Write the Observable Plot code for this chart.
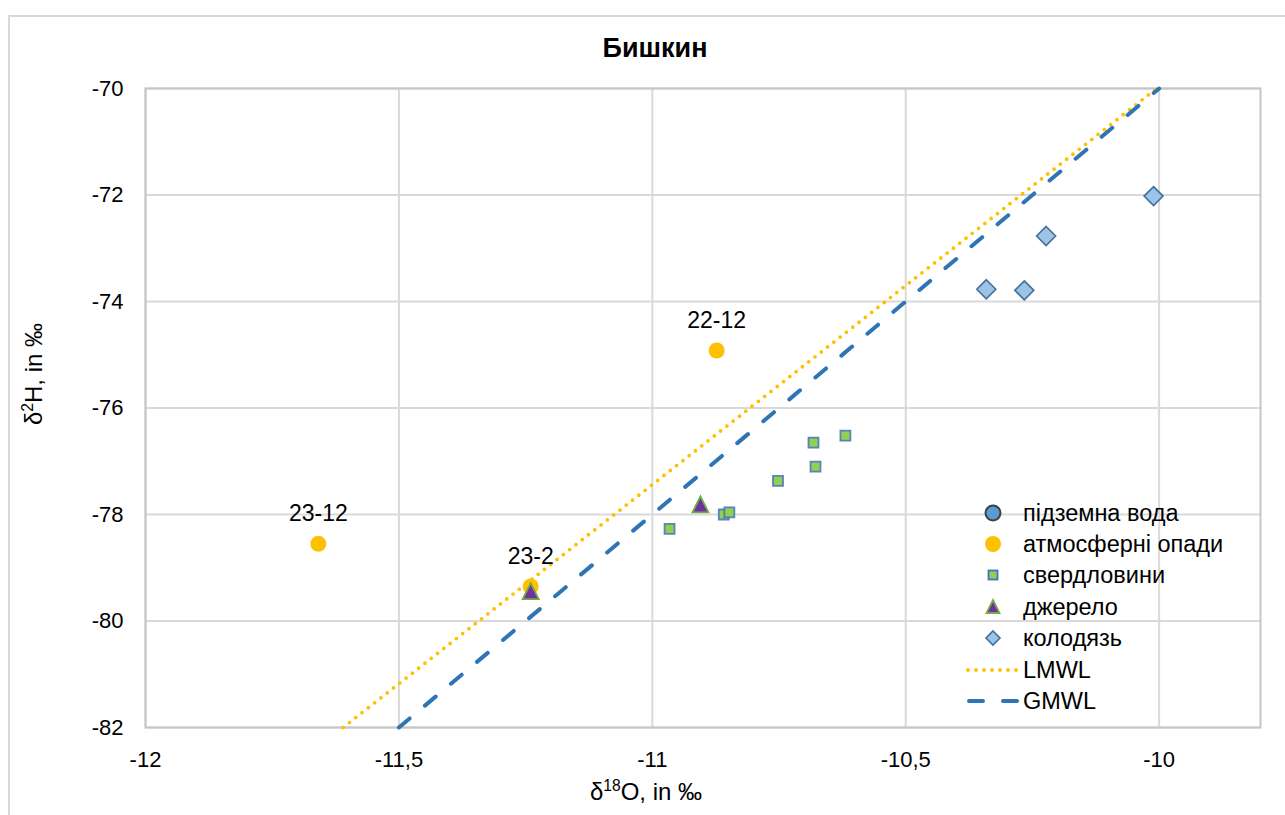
<!DOCTYPE html>
<html><head><meta charset="utf-8">
<script src="https://cdn.jsdelivr.net/npm/d3@7"></script>
<script src="https://cdn.jsdelivr.net/npm/@observablehq/plot@0.6"></script>
<style>
body{margin:0;width:1285px;height:815px;overflow:hidden;background:#fff;font-family:"Liberation Sans",Arial,sans-serif;position:relative;color:#000}
#frame{position:absolute;left:8px;top:15px;width:1320px;height:900px;border:2px solid #d9d9d9;box-sizing:border-box}
#chart{position:absolute;left:0;top:0}
#title{position:absolute;left:0;width:1310px;top:35px;text-align:center;font-weight:bold;font-size:27px;line-height:1}
#xlab{position:absolute;left:646px;top:792px;transform:translate(-50%,-50%);font-size:24px;line-height:1;white-space:nowrap}
#ylab{position:absolute;left:34px;top:374px;transform:translate(-50%,-50%) rotate(-90deg);font-size:24px;line-height:1;white-space:nowrap}
sup{font-size:0.65em;vertical-align:0.55em;line-height:0}
.lg{position:absolute;left:965px;height:30px;display:flex;align-items:center;font-size:23.5px;line-height:30px;white-space:nowrap}
.lg svg{width:56px;height:30px;flex:none}
.lg span{margin-left:2px}
</style></head>
<body>
<div id="frame"></div>
<div id="chart"></div>
<div id="title">Бишкин</div>
<div id="xlab">δ<sup>18</sup>O, in ‰</div>
<div id="ylab">δ<sup>2</sup>H, in ‰</div>
<div id="legend"></div>
<script>
// ---- data ----
const xTicks = [-12, -11.5, -11, -10.5, -10];
const yTicks = [-82, -80, -78, -76, -74, -72, -70];

const atmX = [-11.659, -11.240, -10.873];
const atmY = [-78.55, -79.35, -74.92];
const atmLabel = ["23-12", "23-2", "22-12"];

const wellX = [-10.966, -10.859, -10.848, -10.752, -10.682, -10.678, -10.619];
const wellY = [-78.27, -78.00, -77.96, -77.37, -76.65, -77.10, -76.52];

const springX = [-10.905, -11.240];
const springY = [-77.81, -79.44];

const dugX = [-10.011, -10.223, -10.341, -10.266];
const dugY = [-72.02, -72.77, -73.77, -73.79];

const lmwlX = [-11.61, -10.005];
const lmwlY = [-82, -70];
const gmwlX = [-11.5, -10];
const gmwlY = [-82, -70];

const legendNames = ["підземна вода", "атмосферні опади", "свердловини", "джерело", "колодязь", "LMWL", "GMWL"];

// ---- helpers ----
const zip = (xs, ys, extra) => xs.map((x, i) => ({x, y: ys[i], ...(extra ? {label: extra[i]} : {})}));
const fmt = d => String(d).replace(".", ",");

const squareSym = {draw(ctx, size){ const r = Math.sqrt(size / Math.PI); ctx.rect(-r, -r, 2*r, 2*r); }};
const diamondSym = {draw(ctx, size){ const r = Math.sqrt(size / Math.PI); ctx.moveTo(0,-r); ctx.lineTo(r,0); ctx.lineTo(0,r); ctx.lineTo(-r,0); ctx.closePath(); }};
const triSym = {draw(ctx, size){ const r = Math.sqrt(size / Math.PI); ctx.moveTo(0,-r); ctx.lineTo(r,r); ctx.lineTo(-r,r); ctx.closePath(); }};

const atm = zip(atmX, atmY, atmLabel);
const wells = zip(wellX, wellY);
const springs = zip(springX, springY);
const dug = zip(dugX, dugY);
const lmwl = zip(lmwlX, lmwlY);
const gmwl = zip(gmwlX, gmwlY);

const chart = Plot.plot({
  width: 1285, height: 815,
  marginTop: 88, marginRight: 25, marginBottom: 88, marginLeft: 145,
  style: {fontFamily: '"Liberation Sans", Arial, sans-serif', fontSize: "22px", color: "#000", background: "transparent"},
  x: {domain: [-12, -9.8], ticks: xTicks, tickFormat: fmt, tickSize: 0, tickPadding: 24, label: null},
  y: {domain: [-82, -70], ticks: yTicks, tickFormat: fmt, tickSize: 0, tickPadding: 22, label: null},
  marks: [
    Plot.ruleX(xTicks, {stroke: "#d9d9d9", strokeWidth: 2}),
    Plot.ruleY(yTicks, {stroke: "#d9d9d9", strokeWidth: 2}),
    Plot.frame({stroke: "#c6c6c6", strokeWidth: 2}),
    Plot.line(lmwl, {x: "x", y: "y", stroke: "#FFC000", strokeWidth: 3.8, strokeDasharray: "0,8", strokeLinecap: "round"}),
    Plot.line(gmwl, {x: "x", y: "y", stroke: "#2E75B6", strokeWidth: 4, strokeDasharray: "14,20", strokeLinecap: "round"}),
    Plot.dot(atm, {x: "x", y: "y", r: 8, fill: "#FFC000", stroke: "none"}),
    Plot.dot(wells, {x: "x", y: "y", r: 5, symbol: squareSym, fill: "#92D050", stroke: "#4472C4", strokeWidth: 1.8, strokeOpacity: 0.85}),
    Plot.dot(springs, {x: "x", y: "y", r: 8, symbol: triSym, fill: "#7030A0", stroke: "#70AD47", strokeWidth: 1.8}),
    Plot.dot(dug, {x: "x", y: "y", r: 9.5, symbol: diamondSym, fill: "#9DC3E6", stroke: "#41719C", strokeWidth: 1.6}),
    Plot.text(atm, {x: "x", y: "y", text: "label", dy: -30, fontSize: 23, fill: "#000"})
  ]
});
document.getElementById("chart").appendChild(chart);

// ---- legend ----
const legendSyms = [
  '<circle cx="28" cy="15" r="7.5" fill="#5B9BD5" stroke="#404040" stroke-width="2"/>',
  '<circle cx="28" cy="15" r="8" fill="#FFC000"/>',
  '<rect x="23.5" y="10.5" width="9" height="9" fill="#92D050" stroke="#4472C4" stroke-width="1.8"/>',
  '<path d="M28,8 L34.5,21 L21.5,21 Z" fill="#7030A0" stroke="#70AD47" stroke-width="1.8"/>',
  '<path d="M28,8 L35,15 L28,22 L21,15 Z" fill="#9DC3E6" stroke="#41719C" stroke-width="1.6"/>',
  '<line x1="3" y1="15" x2="52" y2="15" stroke="#FFC000" stroke-width="3.8" stroke-dasharray="0,8" stroke-linecap="round"/>',
  '<line x1="4" y1="15" x2="52" y2="15" stroke="#2E75B6" stroke-width="4" stroke-dasharray="14,20" stroke-linecap="round"/>'
];
const legendY = [513, 544, 575, 607, 638, 670, 701];
const lg = document.getElementById("legend");
legendNames.forEach((name, i) => {
  const row = document.createElement("div");
  row.className = "lg";
  row.style.top = (legendY[i] - 15) + "px";
  row.innerHTML = '<svg viewBox="0 0 56 30">' + legendSyms[i] + '</svg><span>' + name + '</span>';
  lg.appendChild(row);
});
</script>
</body></html>
